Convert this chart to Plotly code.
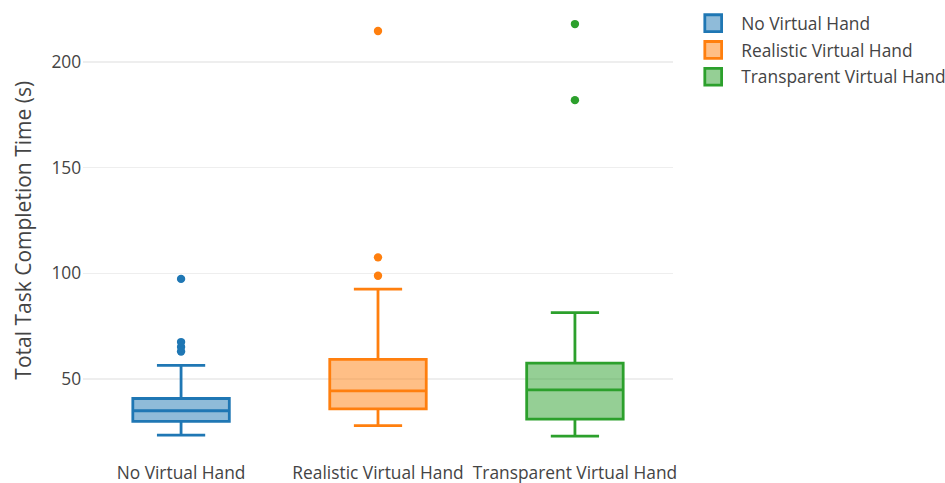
import plotly.graph_objects as go

categories = ["No Virtual Hand", "Realistic Virtual Hand", "Transparent Virtual Hand"]

no_virtual_hand = [23.5, 25.5, 27, 28, 28.8, 29.4, 30, 30, 30, 31, 32, 33, 34, 35, 35, 35,
                   36, 37, 38, 39.5, 40.8, 40.8, 40.8, 47, 56.5, 63, 65.2, 67.5, 97.4]
realistic_virtual_hand = [28, 30, 31.5, 33, 34, 35, 35.9, 35.9, 35.9, 37, 39, 41, 43, 44.4, 44.4, 44.4,
                          47, 50, 53, 56, 59.3, 59.3, 59.3, 68, 75, 92.6, 98.9, 107.6, 214.7]
transparent_virtual_hand = [23, 24.5, 26, 27.5, 29, 30, 31, 31, 31, 34, 37, 39, 41, 44.9, 44.9, 44.9,
                            48, 51, 53, 55.5, 57.5, 57.5, 57.5, 62, 66, 72, 81.4, 182, 218]

series = [no_virtual_hand, realistic_virtual_hand, transparent_virtual_hand]
colors = ["#1f77b4", "#ff7f0e", "#2ca02c"]

fig = go.Figure()
for name, vals, col in zip(categories, series, colors):
    fig.add_trace(go.Box(
        y=vals, x=[name] * len(vals), name=name,
        marker=dict(color=col, size=6), line=dict(color=col, width=2),
        boxpoints="outliers",
    ))

# The reference is a 1.4x enlarged render of a 675x345 chart.
SCALE = 1.4
fig.update_layout(
    width=675, height=345,
    margin=dict(l=59, r=194, t=0, b=16, autoexpand=False),
    paper_bgcolor="white", plot_bgcolor="white",
    font=dict(family="Open Sans", size=12.4, color="#444"),
    legend=dict(x=1.02, y=0.994),
    yaxis=dict(title=dict(text="Total Task Completion Time (s)", font=dict(size=15), standoff=10),
               range=[11.4, 229.4],
               gridcolor="#eee", zeroline=False, tickvals=[50, 100, 150, 200]),
    xaxis=dict(showgrid=False, zeroline=False),
)

post = (
    "document.body.style.margin='0';"
    "document.body.style.overflow='hidden';"
    "var d=document.getElementById('{plot_id}');"
    "d.style.transformOrigin='0 0';"
    "d.style.transform='scale(%s)';" % SCALE
)
fig.write_html("out.html", post_script=post)
